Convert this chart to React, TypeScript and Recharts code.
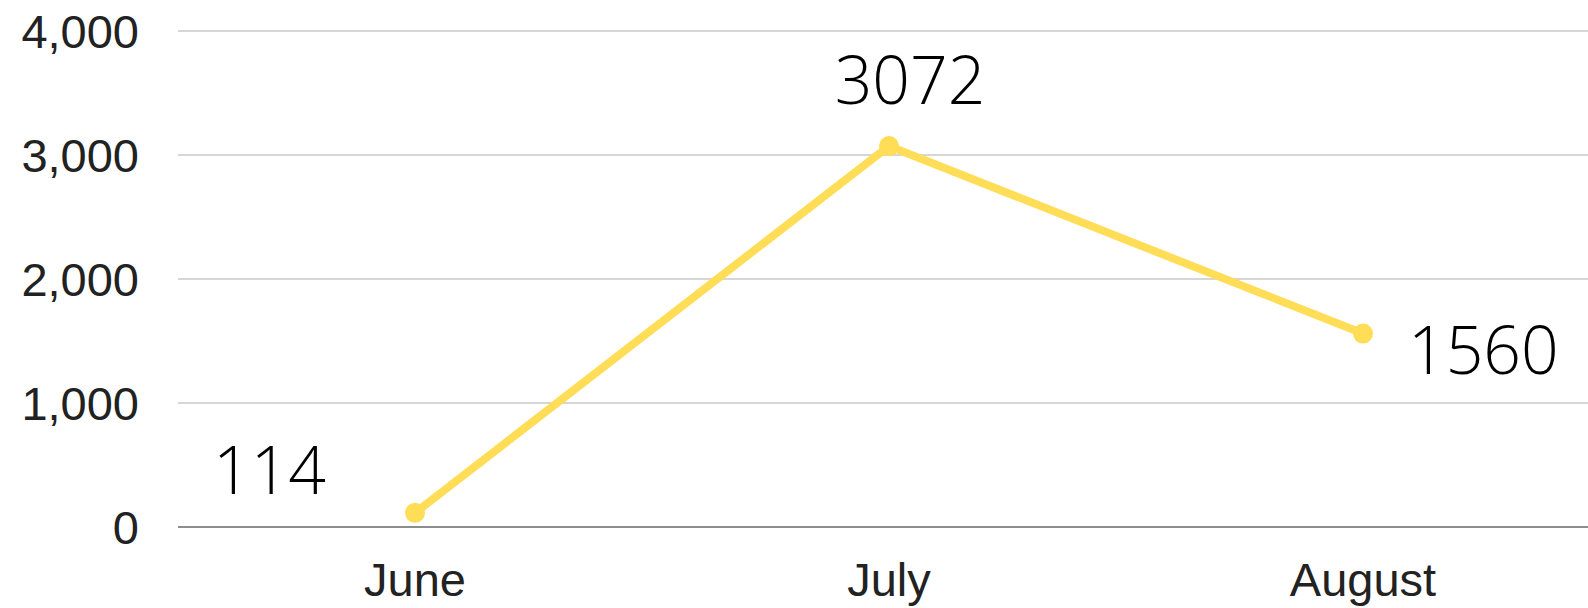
import React from 'react';
import { LineChart, Line, XAxis, YAxis, CartesianGrid, LabelList } from 'recharts';

const months = ['June', 'July', 'August'];
const visitors = [114, 3072, 1560];
const yTicks = [0, 1000, 2000, 3000, 4000];

const data = months.map((m, i) => ({ month: m, value: visitors[i] }));

const renderLabel = (props: any) => {
  const { x, y, value, index } = props;
  let tx = x;
  let ty = y;
  let anchor: 'start' | 'middle' | 'end' = 'middle';
  if (index === 0) {
    tx = x - 89;
    ty = y - 19;
    anchor = 'end';
  } else if (index === 1) {
    tx = x + 21;
    ty = y - 42;
    anchor = 'middle';
  } else {
    tx = x + 45;
    ty = y + 40;
    anchor = 'start';
  }
  return (
    <text
      x={tx}
      y={ty}
      textAnchor={anchor}
      fill="#000"
      fontFamily="'Open Sans', sans-serif"
      fontWeight={300}
      fontSize={66}
    >
      {value}
    </text>
  );
};

export default function App() {
  return (
    <div style={{ position: 'absolute', left: 0, top: 0, width: 1588, height: 608, overflow: 'hidden', background: '#fff' }}>
      <LineChart
        width={1600}
        height={608}
        data={data}
        margin={{ top: 31, right: 0, bottom: 0, left: 0 }}
      >
        <CartesianGrid vertical={false} stroke="#c8c8c8" strokeWidth={1.5} />
        <XAxis
          dataKey="month"
          height={81}
          padding={{ left: 237, right: 237 }}
          axisLine={{ stroke: '#757575', strokeWidth: 1.5 }}
          tickLine={false}
          tickMargin={30}
          tick={{ fill: '#222', fontSize: 47, fontFamily: "'Liberation Sans', Arial, sans-serif" }}
        />
        <YAxis
          width={178}
          domain={[0, 4000]}
          ticks={yTicks}
          axisLine={false}
          tickLine={false}
          tickMargin={33}
          tickFormatter={(v: number) => v.toLocaleString('en-US')}
          tick={{ fill: '#222', fontSize: 47, fontFamily: "'Liberation Sans', Arial, sans-serif" }}
        />
        <Line
          type="linear"
          dataKey="value"
          stroke="#FFDD57"
          strokeWidth={8}
          dot={{ r: 10, fill: '#FFDD57', stroke: 'none' }}
          activeDot={false}
          isAnimationActive={false}
        >
          <LabelList dataKey="value" content={renderLabel} />
        </Line>
      </LineChart>
    </div>
  );
}
